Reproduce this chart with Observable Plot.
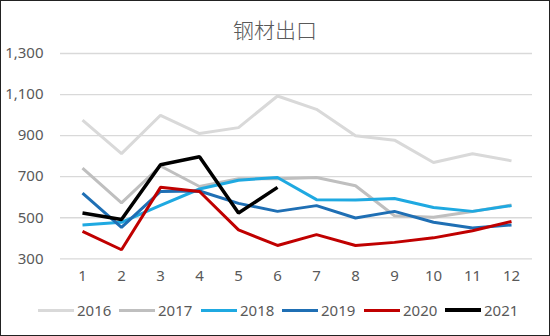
<!DOCTYPE html>
<html><head><meta charset="utf-8">
<script src="https://cdn.jsdelivr.net/npm/d3@7"></script>
<script src="https://cdn.jsdelivr.net/npm/@observablehq/plot@0.6"></script>
<style>
html,body{margin:0;padding:0;background:#fff;}
#wrap{position:relative;width:550px;height:336px;overflow:hidden;background:#fff;font-family:"Noto Sans CJK SC","Noto Sans",sans-serif;}
#frame{position:absolute;left:0;top:0;width:548px;height:334px;border:1px solid #222;pointer-events:none;}
#title{position:absolute;left:0;width:550px;top:14px;text-align:center;font-size:21px;color:#595959;font-weight:300;}
#chart{position:absolute;left:0;top:40px;}
#legend{position:absolute;left:0;top:300px;width:550px;height:20px;}
.item{position:absolute;top:0;height:20px;display:flex;align-items:center;font-size:15px;color:#595959;font-family:"Noto Sans","Noto Sans CJK SC",sans-serif;}
.sw{display:inline-block;width:36px;height:3px;margin-right:3px;}
</style></head>
<body><div id="wrap"><div id="title">钢材出口</div><div id="chart"></div><div id="legend"></div><div id="frame"></div></div>
<script>
const months = [1,2,3,4,5,6,7,8,9,10,11,12];
const years = ["2016","2017","2018","2019","2020","2021"];
const colors = ["#d9d9d9","#bfbfbf","#1fa9e1","#1f6fb4","#c00000","#000000"];
const yTicks = [300,500,700,900,1100,1300];
const v2016 = [975,812,999,910,939,1093,1028,899,878,769,812,777];
const v2017 = [742,572,752,652,690,690,696,656,510,502,530,562];
const v2018 = [465,478,560,640,683,696,588,586,594,550,531,559];
const v2019 = [620,453,628,630,570,531,559,499,531,478,450,465];
const v2020 = [434,344,648,628,441,365,418,365,380,402,437,482];
const v2021 = [523,491,758,797,523,648];
const series = [v2016,v2017,v2018,v2019,v2020,v2021];

const data = [];
series.forEach((vals,i)=>vals.forEach((v,j)=>data.push({year:years[i],month:months[j],value:v})));

const chart = Plot.plot({
  width:550, height:255,
  marginTop:13, marginBottom:36.7, marginLeft:60, marginRight:18,
  style:{fontFamily:"'Noto Sans','Noto Sans CJK SC',sans-serif",fontSize:"15px",color:"#595959",background:"transparent"},
  x:{type:"point",domain:months,padding:0.5,label:null},
  y:{domain:[300,1300],label:null},
  color:{domain:years,range:colors},
  marks:[
    Plot.ruleY(yTicks,{stroke:"#d9d9d9",strokeWidth:1.3}),
    Plot.axisX({tickSize:0,tickPadding:12,fill:"#595959",label:null}),
    Plot.axisY({ticks:yTicks,tickFormat:d3.format(","),tickSize:0,tickPadding:17,fill:"#595959",label:null}),
    Plot.line(data,{x:"month",y:"value",z:"year",stroke:"year",strokeWidth:d=>d.year==="2021"?3.5:3,strokeLinejoin:"miter",strokeLinecap:"butt"})
  ]
});
document.getElementById("chart").appendChild(chart);

const lx = [38,119,201,282,364,445];
const leg = document.getElementById("legend");
years.forEach((y,i)=>{
  const d = document.createElement("div");
  d.className="item"; d.style.left=lx[i]+"px";
  d.innerHTML=`<span class="sw" style="background:${colors[i]};height:${i===5?4:3}px"></span>${y}`;
  leg.appendChild(d);
});
</script></body></html>
